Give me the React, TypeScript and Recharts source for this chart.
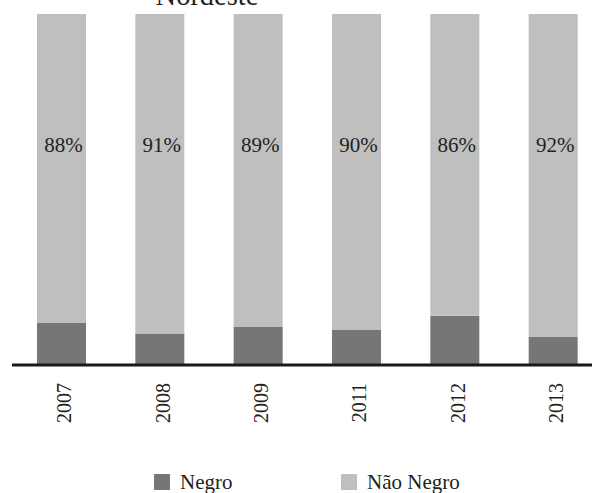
import React from 'react';
import { BarChart, Bar, XAxis, YAxis, LabelList } from 'recharts';

// Share of each group per year (percent)
const years = ['2007', '2008', '2009', '2011', '2012', '2013'];
const naoNegro = [88, 91, 89, 90, 86, 92];
const negro = [12, 9, 11, 10, 14, 8];

const title = 'Nordeste';
const seriesNames = { negro: 'Negro', naoNegro: 'Não Negro' };

const DARK = '#767676';
const LIGHT = '#bfbfbf';
const INK = '#231f20';
const FONT = "'Liberation Serif', serif";
const serif = { fontFamily: FONT };

const rows = years.map((year, i) => ({
  year,
  negro: negro[i],
  naoNegro: naoNegro[i],
}));

const YearTick = (props: any) => {
  const { x, y, payload } = props;
  return (
    <text
      transform={`translate(${x + 10}, ${y + 18}) rotate(-90)`}
      textAnchor="end"
      fontSize={20}
      style={serif}
      fill={INK}
    >
      {payload.value}
    </text>
  );
};

const PctLabel = (props: any) => {
  const { x, y, width, value } = props;
  return (
    <text
      x={Number(x) + Number(width) / 2 + 2}
      y={Number(y) + 138}
      textAnchor="middle"
      fontSize={21}
      style={serif}
      fill={INK}
    >
      {`${value}%`}
    </text>
  );
};

export default function App() {
  return (
    <div
      style={{
        position: 'absolute',
        left: 0,
        top: 0,
        width: 592,
        height: 493,
        overflow: 'hidden',
        background: '#ffffff',
        fontFamily: FONT,
      }}
    >
      <BarChart
        width={604}
        height={493}
        data={rows}
        margin={{ top: 14, right: 2, left: 12, bottom: 0 }}
      >
        <XAxis
          dataKey="year"
          height={128}
          interval={0}
          tickLine={false}
          tickSize={0}
          tickMargin={0}
          axisLine={{ stroke: '#1a1a1a', strokeWidth: 3 }}
          tick={YearTick}
        />
        <YAxis hide domain={[0, 100]} />
        <Bar dataKey="negro" name={seriesNames.negro} stackId="s" fill={DARK} barSize={49} isAnimationActive={false} />
        <Bar dataKey="naoNegro" name={seriesNames.naoNegro} stackId="s" fill={LIGHT} barSize={49} isAnimationActive={false}>
          <LabelList dataKey="naoNegro" content={PctLabel} />
        </Bar>
      </BarChart>
      <svg
        width={592}
        height={493}
        style={{ position: 'absolute', left: 0, top: 0, pointerEvents: 'none' }}
      >
        <text x={207} y={5} textAnchor="middle" fontSize={28.5} style={serif} fill={INK}>
          {title}
        </text>
        <rect x={154} y={474} width={16} height={16} fill={DARK} />
        <text x={180} y={489} fontSize={21} style={serif} fill={INK}>
          {seriesNames.negro}
        </text>
        <rect x={341} y={474} width={16} height={16} fill={LIGHT} />
        <text x={367} y={489} fontSize={21} style={serif} fill={INK}>
          {seriesNames.naoNegro}
        </text>
      </svg>
    </div>
  );
}
